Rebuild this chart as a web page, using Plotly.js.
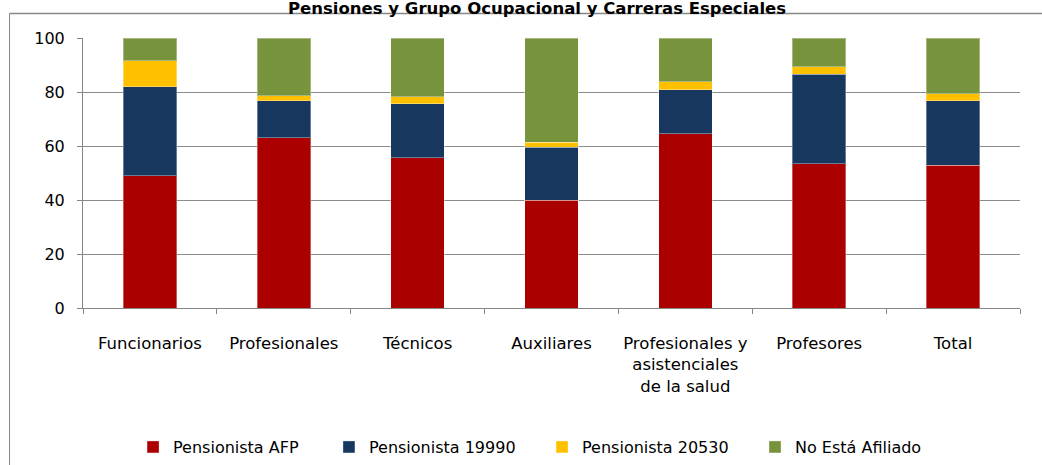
<!DOCTYPE html>
<html>
<head>
<meta charset="utf-8">
<script src="https://cdn.plot.ly/plotly-3.0.1.min.js"></script>
<style>html,body{margin:0;padding:0;background:#fff;}#chart{width:1042px;height:465px;}</style>
</head>
<body>
<div id="chart"></div>
<script>
const categories = ["Funcionarios", "Profesionales", "Técnicos", "Auxiliares", "Profesionales y<br>asistenciales<br>de la salud", "Profesores", "Total"];
const pensionistaAFP = [49, 63, 55.7, 40, 64.6, 53.5, 52.8];
const pensionista19990 = [33, 13.8, 20, 19.6, 16.2, 33, 24];
const pensionista20530 = [9.6, 1.9, 2.5, 1.8, 3, 2.8, 2.6];
const noAfiliado = [8.4, 21.3, 21.8, 38.6, 16.2, 10.7, 20.6];
const seriesNames = ["Pensionista AFP", "Pensionista 19990", "Pensionista 20530", "No Está Afiliado"];
const yTicks = [0, 20, 40, 60, 80, 100];
const chartTitle = "Pensiones y Grupo Ocupacional y Carreras Especiales";

const colors = ["#AA0000", "#17375E", "#FFC000", "#77933C"];
const values = [pensionistaAFP, pensionista19990, pensionista20530, noAfiliado];
const legendIds = ["legend", "legend2", "legend3", "legend4"];
const legendX = [0.0534, 0.2625, 0.4899, 0.7172];
const traces = values.map((v, i) => ({
  type: "bar",
  x: categories,
  y: v,
  name: seriesNames[i],
  legend: legendIds[i],
  marker: {color: colors[i], line: {color: "rgba(255,255,255,0.35)", width: 1}},
  hoverinfo: "skip"
}));

const layout = {
  width: 1042, height: 465,
  margin: {l: 83, r: 22, t: 38, b: 157, autoexpand: false},
  paper_bgcolor: "#fff", plot_bgcolor: "#fff",
  barmode: "stack",
  bargap: 0.6,
  font: {family: "DejaVu Sans, sans-serif", size: 16, color: "#000"},
  xaxis: {
    showgrid: false, showline: true, linecolor: "#868686", linewidth: 1,
    ticks: "outside", tickson: "boundaries", ticklen: 5, tickcolor: "#868686",
    tickfont: {size: 16.5}, tickangle: 0, fixedrange: true, automargin: false,
    ticklabelstandoff: 20
  },
  yaxis: {
    range: [0, 100], tickvals: yTicks, ticktext: yTicks.map(String),
    showgrid: true, gridcolor: "#8c8c8c", gridwidth: 1,
    showline: true, linecolor: "#868686", linewidth: 1,
    ticks: "outside", ticklen: 5, tickcolor: "#868686",
    tickfont: {size: 16}, zeroline: false, fixedrange: true, automargin: false,
    ticklabelstandoff: 9
  },
  showlegend: true,
  annotations: [{text: "<b>" + chartTitle + "</b>", xref: "paper", yref: "paper", x: 0.484, y: 1.111, xanchor: "center", yanchor: "middle", showarrow: false, font: {family: "DejaVu Sans, sans-serif", size: 16.5, color: "#000"}}],
  shapes: [
    {type: "line", xref: "paper", yref: "paper", x0: -0.0784, x1: 1.1, y0: 1.0907, y1: 1.0907, line: {color: "#868686", width: 1.3}},
    {type: "line", xref: "paper", yref: "paper", x0: -0.0784, x1: -0.0784, y0: -0.7, y1: 1.0907, line: {color: "#868686", width: 1}}
  ]
};
legendIds.forEach((id, i) => {
  layout[id] = {orientation: "h", x: legendX[i], xanchor: "left", y: -0.515, yanchor: "middle", font: {size: 16}, itemclick: false, bgcolor: "rgba(0,0,0,0)"};
});

Plotly.newPlot("chart", traces, layout, {displayModeBar: false, staticPlot: true});
</script>
</body>
</html>
